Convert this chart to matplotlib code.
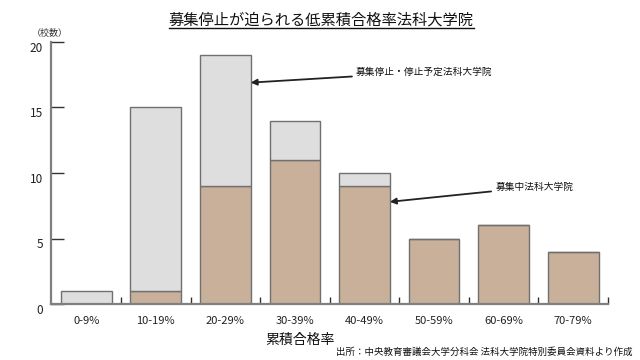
import matplotlib
matplotlib.use("Agg")
import matplotlib.pyplot as plt
import matplotlib.transforms as mtransforms
from matplotlib.lines import Line2D

plt.rcParams['font.family'] = ['Noto Sans CJK JP', 'DejaVu Sans']

categories = ["0-9%", "10-19%", "20-29%", "30-39%", "40-49%", "50-59%", "60-69%", "70-79%"]
recruiting = [0, 1, 9, 11, 9, 5, 6, 4]          # 募集中法科大学院
stopped = [1, 14, 10, 3, 1, 0, 0, 0]            # 募集停止・停止予定法科大学院
yticks = [0, 5, 10, 15, 20]

title = "募集停止が迫られる低累積合格率法科大学院"
xlabel = "累積合格率"
ylabel = "（校数）"
label_stopped = "募集停止・停止予定法科大学院"
label_recruiting = "募集中法科大学院"
source = "出所：中央教育審議会大学分科会 法科大学院特別委員会資料より作成"

tan = "#C8B09A"
gray = "#DEDEDE"
edge = "#707070"

fig = plt.figure(figsize=(6.4, 3.6), dpi=100)
ax = fig.add_axes([51.4/640, 1 - 304/360, (608 - 51.4)/640, (304 - 42)/360])

x = list(range(len(categories)))
w = 0.73
ax.bar(x, recruiting, width=w, color=tan, edgecolor=edge, linewidth=1.0, zorder=2)
ax.bar(x, stopped, width=w, bottom=recruiting, color=gray, edgecolor=edge, linewidth=1.0, zorder=2)

ax.set_xlim(-0.5, len(categories) - 0.5)
ax.set_ylim(0, 20)

for s in ["top", "right"]:
    ax.spines[s].set_visible(False)
for s in ["left", "bottom"]:
    ax.spines[s].set_color("#7f7f7f")
    ax.spines[s].set_linewidth(1.6)
ax.spines["left"].set_zorder(3)

ax.set_yticks(yticks)
ax.set_yticklabels([str(v) for v in yticks], fontsize=8.5, color="#222222")
ax.tick_params(axis="y", direction="in", length=9.5, width=1.0, color="#333333", pad=6)
offset = mtransforms.ScaledTranslation(0, -5/100, fig.dpi_scale_trans)
for lab in ax.get_yticklabels():
    lab.set_transform(lab.get_transform() + offset)

# category labels (minor) and boundary ticks (major)
ax.set_xticks([i + 0.5 for i in x])
ax.set_xticklabels([])
ax.tick_params(axis="x", which="major", direction="in", length=5, width=1.0, color="#333333")
ax.set_xticks(x, minor=True)
ax.set_xticklabels(categories, minor=True, fontsize=8, color="#222222")
ax.tick_params(axis="x", which="minor", length=0, pad=9)

fig.text(300/640, 1 - 340/360, xlabel, fontsize=10, ha="center", va="center", color="#111111")
fig.text(50/640, 1 - 33/360, ylabel, fontsize=6.5, ha="center", va="center", color="#333333")
fig.text(633/640, 1 - 352/360, source, fontsize=6.8, ha="right", va="center", color="#111111")

t = fig.text(321/640, 1 - 20/360, title, fontsize=11, ha="center", va="center", color="#111111")
fig.canvas.draw()
bb = t.get_window_extent().transformed(fig.transFigure.inverted())
uy = 1 - 28/360
fig.add_artist(Line2D([bb.x0, bb.x1], [uy, uy], transform=fig.transFigure, color="#111111", lw=1.0))

ax.annotate(label_stopped, xy=(2 + w/2, 16.9), xytext=(3.88, 17.7),
            fontsize=7, va="center", ha="left", color="#111111",
            arrowprops=dict(arrowstyle="-|>", color="#222222", lw=1.3, mutation_scale=9,
                            shrinkA=1, shrinkB=0))
ax.annotate(label_recruiting, xy=(4 + w/2, 7.8), xytext=(5.88, 8.93),
            fontsize=7, va="center", ha="left", color="#111111",
            arrowprops=dict(arrowstyle="-|>", color="#222222", lw=1.3, mutation_scale=9,
                            shrinkA=1, shrinkB=0))

fig.savefig("out.png", dpi=100)
